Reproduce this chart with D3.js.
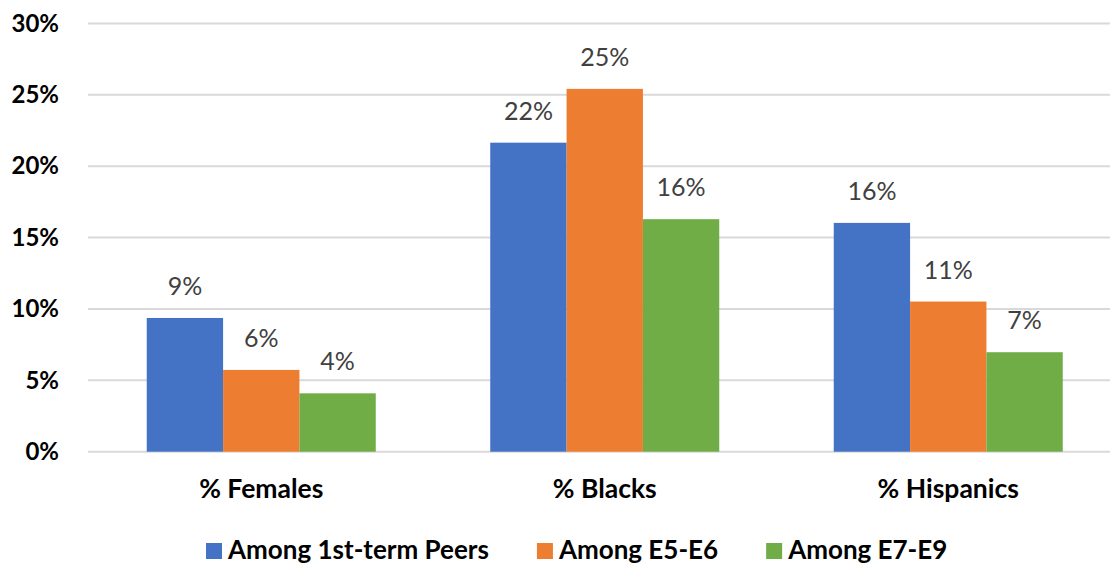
<!DOCTYPE html>
<html>
<head>
<meta charset="utf-8">
<script src="https://cdn.jsdelivr.net/npm/d3@7"></script>
<style>
  html, body { margin: 0; padding: 0; background: #fff; }
  svg { display: block; font-family: Lato, "Open Sans", "DejaVu Sans", sans-serif; }
</style>
</head>
<body>
<svg id="chart" width="1110" height="567"></svg>
<script>
// Categories and series
const categories = ["% Females", "% Blacks", "% Hispanics"];
const seriesNames = ["Among 1st-term Peers", "Among E5-E6", "Among E7-E9"];
const seriesColors = ["#4472C4", "#ED7D31", "#70AD47"];
const peers1stTerm = [0.0937, 0.2165, 0.1603];
const amongE5E6 = [0.0573, 0.2542, 0.1052];
const amongE7E9 = [0.0409, 0.1629, 0.0697];
const yTicks = [0, 0.05, 0.10, 0.15, 0.20, 0.25, 0.30];

const seriesValues = [peers1stTerm, amongE5E6, amongE7E9];

const svg = d3.select("#chart");
const W = 1110, H = 567;
const plot = { left: 88, top: 23.5, bottom: 451.7, bandStart: 89.5, bandEnd: 1120 };

// Grouped band layout: gap between groups is 1.5x a bar width
const x0 = d3.scaleBand()
  .domain(categories)
  .range([plot.bandStart, plot.bandEnd])
  .paddingInner(1 / 3)
  .paddingOuter(1 / 6);

const x1 = d3.scaleBand()
  .domain(seriesNames)
  .range([0, x0.bandwidth()])
  .padding(0);

const y = d3.scaleLinear()
  .domain([0, 0.30])
  .range([plot.bottom, plot.top]);

// Horizontal gridlines
svg.append("g")
  .selectAll("line")
  .data(yTicks)
  .join("line")
  .attr("x1", plot.left)
  .attr("x2", W)
  .attr("y1", d => y(d))
  .attr("y2", d => y(d))
  .attr("stroke", "#d9d9d9")
  .attr("stroke-width", 2);

// Y axis labels
const yAxis = d3.axisLeft(y)
  .tickValues(yTicks)
  .tickFormat(d3.format(".0%"))
  .tickSize(0)
  .tickPadding(0);

svg.append("g")
  .attr("transform", `translate(59,0)`)
  .call(yAxis)
  .call(g => g.select(".domain").remove())
  .selectAll("text")
  .attr("font-family", "Lato, sans-serif")
  .attr("font-size", 24)
  .attr("font-weight", "bold")
  .attr("fill", "#000");

// Bars
const rows = categories.map((c, i) => ({
  category: c,
  values: seriesNames.map((s, j) => ({ series: s, value: seriesValues[j][i], color: seriesColors[j] }))
}));

const groups = svg.append("g")
  .selectAll("g")
  .data(rows)
  .join("g")
  .attr("transform", d => `translate(${x0(d.category)},0)`);

groups.selectAll("rect")
  .data(d => d.values)
  .join("rect")
  .attr("x", d => x1(d.series))
  .attr("width", x1.bandwidth())
  .attr("y", d => y(d.value))
  .attr("height", d => y(0) - y(d.value))
  .attr("fill", d => d.color);

// Value labels
groups.selectAll("text.val")
  .data(d => d.values)
  .join("text")
  .attr("class", "val")
  .attr("x", d => x1(d.series) + x1.bandwidth() / 2)
  .attr("y", d => y(d.value) - 23)
  .attr("text-anchor", "middle")
  .attr("font-size", 25)
  .attr("fill", "#404040")
  .text(d => d3.format(".0%")(d.value));

// Category axis labels
const xAxis = d3.axisBottom(x0).tickSize(0).tickPadding(0);
svg.append("g")
  .attr("transform", `translate(0,${y(0)})`)
  .call(xAxis)
  .call(g => g.select(".domain").remove())
  .selectAll("text")
  .attr("dy", 0)
  .attr("y", 46)
  .attr("font-family", "Lato, sans-serif")
  .attr("font-size", 26.5)
  .attr("font-weight", "bold")
  .attr("fill", "#000");

// Legend
const legend = svg.append("g").attr("transform", "translate(0,550)");
let lx = 206;
seriesNames.forEach((name, i) => {
  legend.append("rect")
    .attr("x", lx)
    .attr("y", -7)
    .attr("width", 16)
    .attr("height", 16)
    .attr("fill", seriesColors[i]);
  const t = legend.append("text")
    .attr("x", lx + 22)
    .attr("y", 0)
    .attr("dy", "0.35em")
    .attr("font-size", 26)
    .attr("font-weight", "bold")
    .attr("fill", "#000")
    .text(name);
  lx += 22 + t.node().getComputedTextLength() + 48;
});
</script>
</body>
</html>
